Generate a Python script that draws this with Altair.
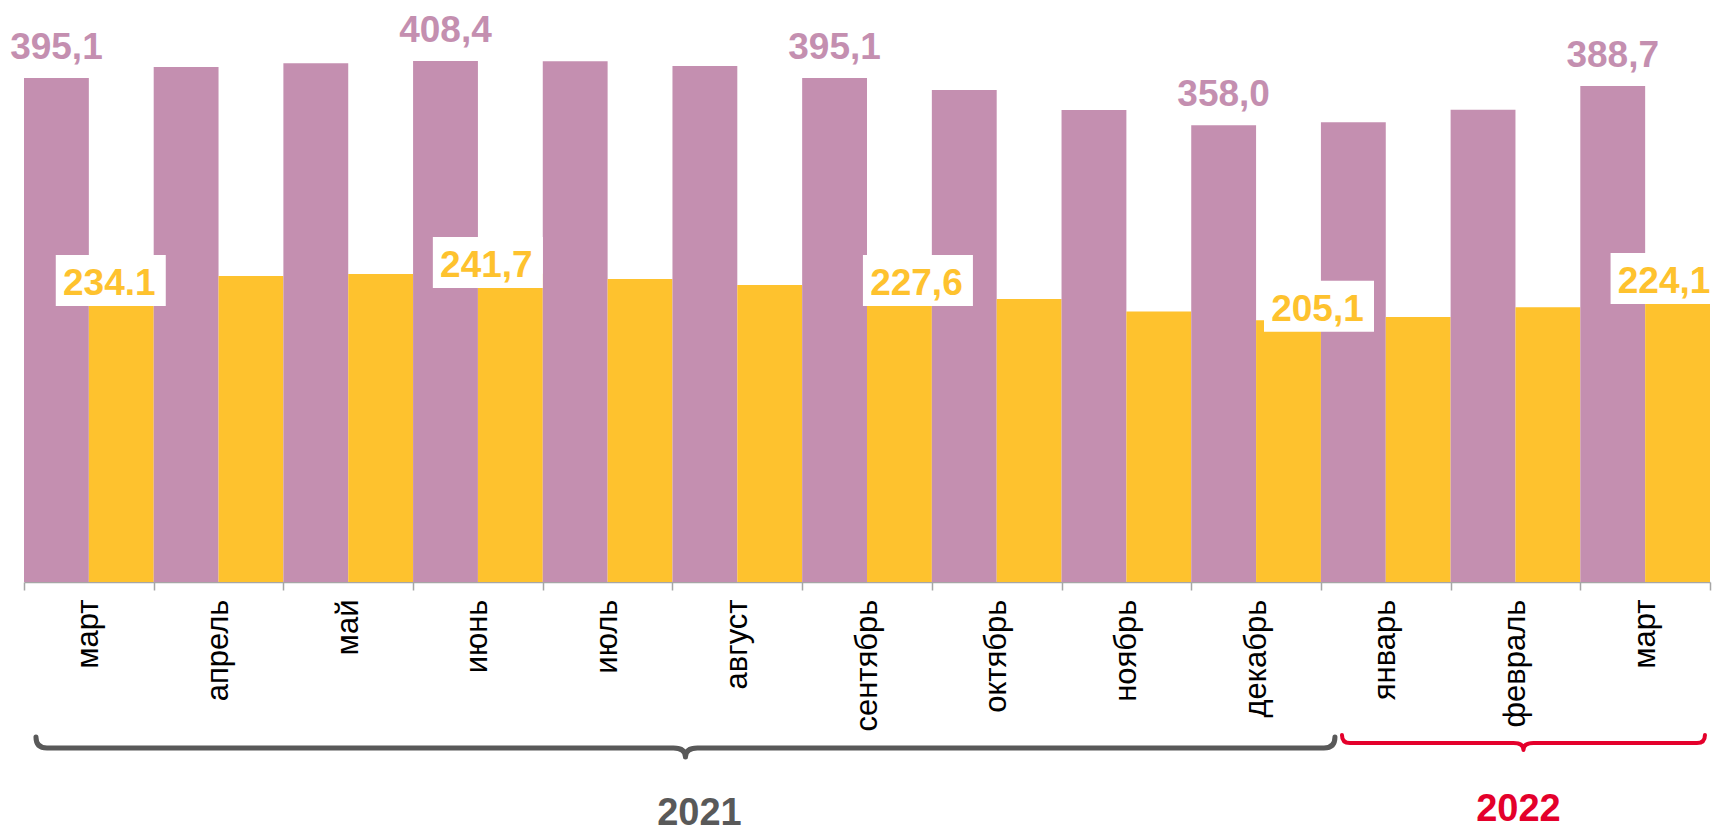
import altair as alt
import pandas as pd

# ---------------- data ----------------
months = ["март", "апрель", "май", "июнь", "июль", "август", "сентябрь",
          "октябрь", "ноябрь", "декабрь", "январь", "февраль", "март"]
series_a = [395.1, 403.6, 406.7, 408.4, 408.1, 404.4, 395.1,
            385.6, 369.9, 358.0, 360.3, 370.1, 388.7]
series_b = [234.1, 239.8, 241.4, 241.7, 237.5, 232.8, 227.6,
            221.8, 212.1, 205.1, 207.7, 215.3, 224.1]
labels_a = ["395,1", "", "", "408,4", "", "", "395,1", "", "", "358,0", "", "", "388,7"]
labels_b = ["234.1", "", "", "241,7", "", "", "227,6", "", "", "205,1", "", "", "224,1"]
groups = ["2021", "2022"]
group_start = [0, 10]
group_end = [10, 13]

# ---------------- styles ----------------
PURPLE = "#C48FB0"
YELLOW = "#FEC22E"
GRAY = "#595959"
RED = "#E4002B"
FONT = "Liberation Sans"
W, H = 1686, 582
Y_MAX = 456.2
BOX_W, BOX_H = 110, 51

# hand placement of the yellow value labels (pixels, relative to bar centre / bar top)
yellow_label_nudge = {0: (-12, 11.7), 3: (-24, 3.4), 6: (17, 3.4), 9: (29, 0.3), 12: (-13.5, -3)}

rows = []
for i in range(len(months)):
    rows.append(dict(idx=i, series="a", value=series_a[i], label=labels_a[i]))
    rows.append(dict(idx=i, series="b", value=series_b[i], label=labels_b[i]))
df = pd.DataFrame(rows)

gdf = pd.DataFrame(dict(group=groups, start=group_start, end=group_end))
gdf["center"] = (gdf["start"] + gdf["end"]) / 2

label_expr = "[" + ",".join("'%s'" % m for m in months) + "][datum.value]"

x_enc = alt.X(
    "idx:O",
    scale=alt.Scale(paddingInner=0, paddingOuter=0),
    axis=alt.Axis(
        title=None, labelExpr=label_expr, labelAngle=-90,
        labelFont=FONT, labelFontSize=31, labelColor="#000000",
        labelPadding=9, tickSize=8, tickColor="#A6A6A6", tickWidth=1.5,
        domainColor="#A6A6A6", domainWidth=1.5, tickBand="extent",
        labelOverlap=False, labelFlush=False, grid=False,
    ),
)
xo_enc = alt.XOffset("series:N", scale=alt.Scale(domain=["a", "b"], paddingInner=0, paddingOuter=0))
y_enc = alt.Y("value:Q", scale=alt.Scale(domain=[0, Y_MAX], nice=False, zero=True), axis=None)

base = alt.Chart(df)

bars = base.mark_bar().encode(
    x=x_enc, xOffset=xo_enc, y=y_enc,
    color=alt.Color("series:N", scale=alt.Scale(domain=["a", "b"], range=[PURPLE, YELLOW]), legend=None),
)

text_a = base.transform_filter("datum.series == 'a' && datum.label != ''").mark_text(
    font=FONT, fontSize=37, fontWeight="bold", color=PURPLE,
    baseline="alphabetic", align="center", dy=-19,
).encode(x=x_enc, xOffset=xo_enc, y=y_enc, text="label:N")


def box_path(dx_px, dy_px):
    """white label box (BOX_W x BOX_H px) shifted by dx/dy px, in unit symbol coords"""
    s = BOX_W / 2.0
    x0, x1 = (-BOX_W / 2 + dx_px) / s, (BOX_W / 2 + dx_px) / s
    y0, y1 = (-BOX_H / 2 + dy_px) / s, (BOX_H / 2 + dy_px) / s
    return "M%.4f,%.4fL%.4f,%.4fL%.4f,%.4fL%.4f,%.4fZ" % (x0, y0, x1, y0, x1, y1, x0, y1)


yellow_layers = []
for i, (ndx, nbase) in yellow_label_nudge.items():
    sel = base.transform_filter("datum.series == 'b' && datum.idx == %d" % i)
    box = sel.mark_point(
        shape=box_path(ndx + 1.5, nbase - 14.5), size=BOX_W * BOX_W, filled=True,
        fill="#FFFFFF", color="#FFFFFF", opacity=1, strokeWidth=0,
    ).encode(x=x_enc, xOffset=xo_enc, y=y_enc)
    txt = sel.mark_text(
        font=FONT, fontSize=37, fontWeight="bold", color=YELLOW,
        baseline="alphabetic", align="center", dy=nbase, dx=ndx,
    ).encode(x=x_enc, xOffset=xo_enc, y=y_enc, text="label:N")
    yellow_layers += [box, txt]


def brace_path(w, r, t, d):
    h = w / 2.0
    f = 1.0 / h

    def p(v):
        return "%.5f" % (v * f)
    return ("M{a},{b}Q{a},0 {c},0L{e},0Q0,0 0,{g}Q0,0 {k},0L{m},0Q{n},0 {n},{b}"
            .format(a=p(-h), b=p(-r), c=p(-h + r), e=p(-t), g=p(d), k=p(t), m=p(h - r), n=p(h)))


brace_style = {
    "2021": dict(color=GRAY, w=1299, r=11, t=12, d=9, sw=5, y=748, dx=13, ty=825, tdx=27),
    "2022": dict(color=RED, w=363, r=8, t=10, d=7, sw=4, y=743, dx=8, ty=821, tdx=3),
}

gx = alt.X("center:Q", scale=alt.Scale(domain=[0, len(months)], nice=False, zero=False), axis=None)
brace_layers = []
for g in groups:
    s = brace_style[g]
    gb = alt.Chart(gdf).transform_filter(alt.datum.group == g)
    brace = gb.mark_point(
        shape=brace_path(s["w"], s["r"], s["t"], s["d"]), size=s["w"] ** 2,
        filled=False, color=s["color"], opacity=1, strokeWidth=s["sw"],
        strokeCap="round", strokeJoin="round", xOffset=s["dx"],
    ).encode(x=gx, y=alt.value(s["y"]))
    ytxt = gb.mark_text(
        font=FONT, fontSize=38, fontWeight="bold", color=s["color"],
        baseline="alphabetic", align="center", dx=s["tdx"],
    ).encode(x=gx, y=alt.value(s["ty"]), text="group:N")
    brace_layers += [brace, ytxt]

main = alt.layer(bars, text_a, *yellow_layers)
chart = alt.layer(main, *brace_layers).resolve_scale(x="independent").properties(
    width=W, height=H,
    autosize=alt.AutoSizeParams(type="none"),
    padding={"left": 24, "top": 0, "right": 3, "bottom": 250},
    background="#FFFFFF",
).configure_view(stroke=None)

chart.save("out.html", embed_options={"renderer": "svg", "actions": False})
